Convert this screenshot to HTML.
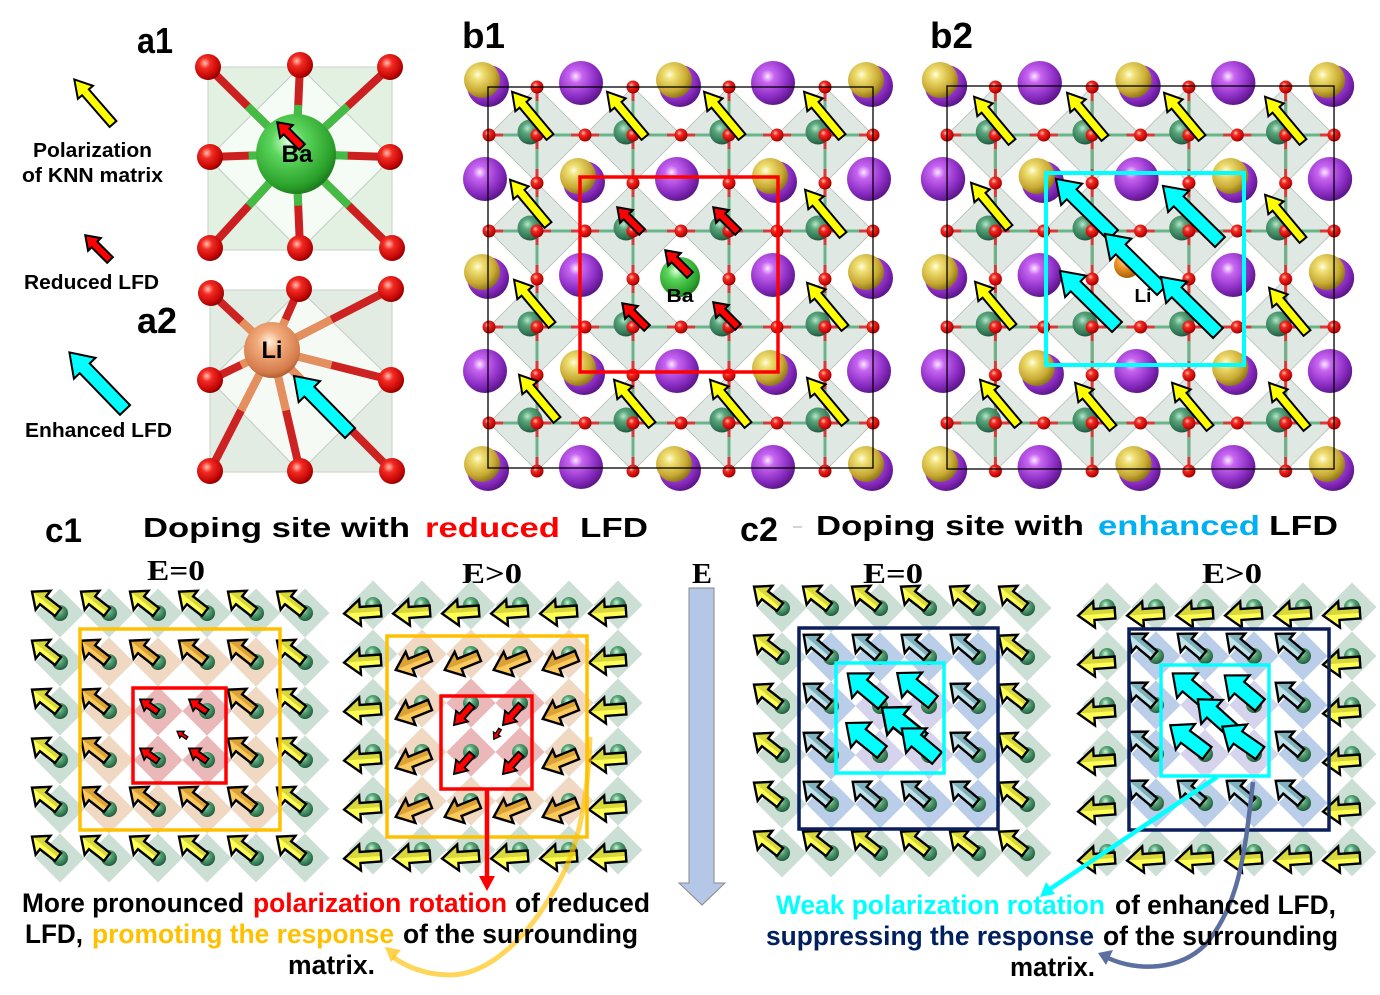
<!DOCTYPE html>
<html><head><meta charset="utf-8"><style>
html,body{margin:0;padding:0;background:#fff;width:1380px;height:995px;overflow:hidden}
svg{display:block}
text{font-family:"Liberation Sans",Arial,sans-serif;font-weight:bold}
.serif{font-family:"Liberation Serif","Times New Roman",serif;font-weight:bold}
</style></head><body>
<svg xmlns="http://www.w3.org/2000/svg" width="1380" height="995" viewBox="0 0 1380 995">
<defs>
<radialGradient id="gPur" cx=".38" cy=".35" r=".68"><stop offset="0" stop-color="#fbe8ff"/><stop offset=".22" stop-color="#c865f2"/><stop offset=".7" stop-color="#8a2cc2"/><stop offset="1" stop-color="#5a1486"/></radialGradient>
<radialGradient id="gGold" cx=".38" cy=".35" r=".68"><stop offset="0" stop-color="#fffde6"/><stop offset=".22" stop-color="#efdf72"/><stop offset=".7" stop-color="#c8a932"/><stop offset="1" stop-color="#8a7218"/></radialGradient>
<radialGradient id="gNb" cx=".4" cy=".35" r=".7"><stop offset="0" stop-color="#b8e6cc"/><stop offset=".3" stop-color="#5aa67c"/><stop offset=".8" stop-color="#2e7050"/><stop offset="1" stop-color="#1d4a34"/></radialGradient>
<radialGradient id="gO" cx=".38" cy=".35" r=".7"><stop offset="0" stop-color="#ffc0b0"/><stop offset=".3" stop-color="#f22a22"/><stop offset=".8" stop-color="#c00404"/><stop offset="1" stop-color="#7e0000"/></radialGradient>
<radialGradient id="gBa" cx=".4" cy=".35" r=".7"><stop offset="0" stop-color="#dcffdc"/><stop offset=".3" stop-color="#5cd65c"/><stop offset=".8" stop-color="#2aa02a"/><stop offset="1" stop-color="#187018"/></radialGradient>
<radialGradient id="gLi" cx=".45" cy=".35" r=".7"><stop offset="0" stop-color="#fff0e0"/><stop offset=".3" stop-color="#f2ac7c"/><stop offset=".8" stop-color="#d47a4a"/><stop offset="1" stop-color="#9a5028"/></radialGradient>
<radialGradient id="gLi2" cx=".4" cy=".35" r=".7"><stop offset="0" stop-color="#ffd890"/><stop offset=".4" stop-color="#f09428"/><stop offset="1" stop-color="#a05800"/></radialGradient>
<radialGradient id="gS" cx=".4" cy=".35" r=".7"><stop offset="0" stop-color="#d0f4dc"/><stop offset=".35" stop-color="#5aa878"/><stop offset=".85" stop-color="#2a6a48"/><stop offset="1" stop-color="#1a4430"/></radialGradient>

<pattern id="pOct" patternUnits="userSpaceOnUse" x="4" y="4" width="96" height="96"><polygon points="48,0 96,48 48,96 0,48" fill="#dfe8e2" stroke="#b4bcb7" stroke-width="0.8"/></pattern>
<pattern id="pO" patternUnits="userSpaceOnUse" x="-20" y="-20" width="96" height="96"><circle cx="24" cy="72" r="6.5" fill="url(#gO)"/><circle cx="72" cy="24" r="6.5" fill="url(#gO)"/><circle cx="72" cy="72" r="6.5" fill="url(#gO)"/></pattern>

<pattern id="pG" patternUnits="userSpaceOnUse" x="-24.5" y="-24.5" width="49" height="49"><polygon points="24.5,0 49,24.5 24.5,49 0,24.5" fill="#cbdfd4"/></pattern>
<pattern id="pT" patternUnits="userSpaceOnUse" x="-24.5" y="-24.5" width="49" height="49"><polygon points="24.5,0 49,24.5 24.5,49 0,24.5" fill="#f0d8c2"/></pattern>
<pattern id="pP" patternUnits="userSpaceOnUse" x="-24.5" y="-24.5" width="49" height="49"><polygon points="24.5,0 49,24.5 24.5,49 0,24.5" fill="#ebb8ba"/></pattern>
<pattern id="pB" patternUnits="userSpaceOnUse" x="-24.5" y="-24.5" width="49" height="49"><polygon points="24.5,0 49,24.5 24.5,49 0,24.5" fill="#bacee9"/></pattern>
<pattern id="pL" patternUnits="userSpaceOnUse" x="-24.5" y="-24.5" width="49" height="49"><polygon points="24.5,0 49,24.5 24.5,49 0,24.5" fill="#d6d4ec"/></pattern>

<path id="F33" d="M0,-5 L19,-5 L19,-12 L33,0 L19,12 L19,5 L0,5 Z"/>
<path id="H33" d="M0,0 L33,0 L19,12 L19,5 L0,5 Z"/>
<path id="F37" d="M0,-5.5 L21,-5.5 L21,-13 L37,0 L21,13 L21,5.5 L0,5.5 Z"/>
<path id="H37" d="M0,0 L37,0 L21,13 L21,5.5 L0,5.5 Z"/>
<path id="Y59" d="M0,-4.5 L42,-4.5 L42,-10 L59,0 L42,10 L42,4.5 L0,4.5 Z"/>
<path id="R35" d="M0,-4 L22,-4 L22,-9 L35,0 L22,9 L22,4 L0,4 Z"/>
<path id="C80" d="M0,-7 L58,-7 L58,-15 L80,0 L58,15 L58,7 L0,7 Z"/>
<path id="C46" d="M0,-7.5 L27,-7.5 L27,-16 L46,0 L27,16 L27,7.5 L0,7.5 Z"/>
<path id="R22" d="M0,-3 L12,-3 L12,-7 L22,0 L12,7 L12,3 L0,3 Z"/>
<path id="R27" d="M0,-3.5 L15,-3.5 L15,-8 L27,0 L15,8 L15,3.5 L0,3.5 Z"/>
<path id="T12" d="M0,-1.5 L6,-1.5 L6,-4 L12,0 L6,4 L6,1.5 L0,1.5 Z"/>

<circle id="sph" r="8" fill="url(#gS)"/>
<circle id="pA" r="22" fill="url(#gPur)"/>
<g id="gA"><circle cx="3" cy="3" r="21" fill="url(#gPur)"/><circle cx="-3" cy="-3" r="18" fill="url(#gGold)"/></g>
<circle id="nb" r="12.5" fill="url(#gNb)"/>
<circle id="ob" r="13" fill="url(#gO)"/>

<g id="cYU"><use href="#sph"/><g transform="translate(-2,-1) rotate(-142)"><use href="#F33" fill="#ffff55"/><use href="#H33" fill="#d8d83c"/><use href="#F33" fill="none" stroke="#000" stroke-width="2.4"/></g></g>
<g id="cOU"><use href="#sph"/><g transform="translate(-2,-1) rotate(-142)"><use href="#F33" fill="#fbc95c"/><use href="#H33" fill="#dca236"/><use href="#F33" fill="none" stroke="#000" stroke-width="2.4"/></g></g>
<g id="cBU"><use href="#sph"/><g transform="translate(-2,-1) rotate(-140)"><use href="#F33" fill="#c2e2ea"/><use href="#H33" fill="#80b2be"/><use href="#F33" fill="none" stroke="#000" stroke-width="2.4"/></g></g>
<g id="cRU"><use href="#sph"/><g transform="translate(0,1) rotate(-145)"><use href="#R22" fill="#ff0000" stroke="#000" stroke-width="1.8"/></g></g>
<g id="cYL"><use href="#sph"/><g transform="translate(8,6) rotate(176)"><use href="#F37" fill="#ffff55"/><use href="#H37" fill="#d8d83c"/><use href="#F37" fill="none" stroke="#000" stroke-width="2.4"/></g></g>
<g id="cOD"><use href="#sph"/><g transform="translate(8,2) rotate(158)"><use href="#F37" fill="#fbc95c"/><use href="#H37" fill="#dca236"/><use href="#F37" fill="none" stroke="#000" stroke-width="2.4"/></g></g>
<g id="cRD"><use href="#sph"/><g transform="translate(1,2) rotate(132)"><use href="#R27" fill="#ff0000" stroke="#000" stroke-width="1.8"/></g></g>

<g id="bLat">
<rect x="4" y="4" width="384" height="384" fill="url(#pOct)"/>
<path d="M4,52H388M4,148H388M4,244H388M4,340H388M52,4V388M148,4V388M244,4V388M340,4V388" stroke="#d83a3a" stroke-width="3" fill="none"/>
<path d="M4,52H388M4,148H388M4,244H388M4,340H388M52,4V388M148,4V388M244,4V388M340,4V388" stroke="#6ab48a" stroke-width="3" fill="none" stroke-dasharray="20 28" stroke-dashoffset="34"/>
<use href="#gA" x="0" y="0"/><use href="#gA" x="192" y="0"/><use href="#gA" x="384" y="0"/>
<use href="#gA" x="96" y="96"/><use href="#gA" x="288" y="96"/>
<use href="#gA" x="0" y="192"/><use href="#gA" x="384" y="192"/>
<use href="#gA" x="96" y="288"/><use href="#gA" x="288" y="288"/>
<use href="#gA" x="0" y="384"/><use href="#gA" x="192" y="384"/><use href="#gA" x="384" y="384"/>
<use href="#pA" x="96" y="0"/><use href="#pA" x="288" y="0"/>
<use href="#pA" x="0" y="96"/><use href="#pA" x="192" y="96"/><use href="#pA" x="384" y="96"/>
<use href="#pA" x="96" y="192"/><use href="#pA" x="288" y="192"/>
<use href="#pA" x="0" y="288"/><use href="#pA" x="192" y="288"/><use href="#pA" x="384" y="288"/>
<use href="#pA" x="96" y="384"/><use href="#pA" x="288" y="384"/>
<use href="#nb" x="45" y="49"/><use href="#nb" x="141" y="49"/><use href="#nb" x="237" y="49"/><use href="#nb" x="333" y="49"/>
<use href="#nb" x="45" y="145"/><use href="#nb" x="141" y="145"/><use href="#nb" x="237" y="145"/><use href="#nb" x="333" y="145"/>
<use href="#nb" x="45" y="241"/><use href="#nb" x="141" y="241"/><use href="#nb" x="237" y="241"/><use href="#nb" x="333" y="241"/>
<use href="#nb" x="45" y="337"/><use href="#nb" x="141" y="337"/><use href="#nb" x="237" y="337"/><use href="#nb" x="333" y="337"/>
</g>
</defs>

<!-- ===== a1 / a2 ===== -->
<text x="137" y="53" font-size="36" textLength="36" lengthAdjust="spacingAndGlyphs">a1</text>
<text x="137" y="333" font-size="36" textLength="40" lengthAdjust="spacingAndGlyphs">a2</text>

<!-- legend -->
<use href="#Y59" transform="translate(113,124) rotate(-131)" fill="#ffff00" stroke="#000" stroke-width="2"/>
<text x="92.5" y="157" font-size="20" text-anchor="middle" textLength="119" lengthAdjust="spacingAndGlyphs">Polarization</text>
<text x="92.5" y="182" font-size="20" text-anchor="middle" textLength="141" lengthAdjust="spacingAndGlyphs">of KNN matrix</text>
<use href="#R35" transform="translate(110,260) rotate(-135)" fill="#ff0000" stroke="#000" stroke-width="2"/>
<text x="24" y="289" font-size="20" textLength="135" lengthAdjust="spacingAndGlyphs">Reduced LFD</text>
<use href="#C80" transform="translate(125,410) rotate(-134)" fill="#00ffff" stroke="#000" stroke-width="2"/>
<text x="25" y="437" font-size="20" textLength="147" lengthAdjust="spacingAndGlyphs">Enhanced LFD</text>

<!-- a1 structure -->
<rect x="208" y="67" width="184" height="183" fill="#e3f1e3" stroke="#c8d2c8" stroke-width="1"/>
<polygon points="300,67 392,158 300,250 208,158" fill="#f5fbf5" stroke="#c4ccc4" stroke-width="1"/>
<g stroke-width="8" stroke-linecap="butt" fill="none">
<path stroke="#cc2020" d="M296,154L208,67M296,154L300,65M296,154L390,67M296,154L210,157M296,154L390,157M296,154L210,248M296,154L300,248M296,154L392,248"/>
<path stroke="#44bb44" d="M296,154L247.6,106.2M296,154L298.2,105M296,154L347.7,106.2M296,154L248.7,155.7M296,154L347.7,155.7M296,154L248.7,205.7M296,154L298.2,205.7M296,154L348.8,205.7"/>
</g>
<use href="#ob" x="208" y="67"/><use href="#ob" x="300" y="65"/><use href="#ob" x="390" y="67"/>
<use href="#ob" x="210" y="157"/><use href="#ob" x="390" y="157"/>
<use href="#ob" x="210" y="248"/><use href="#ob" x="300" y="248"/><use href="#ob" x="392" y="248"/>
<circle cx="296" cy="154" r="40" fill="url(#gBa)"/>
<use href="#R35" transform="translate(302,147) rotate(-135)" fill="#ff0000" stroke="#000" stroke-width="2"/>
<text x="297" y="162" font-size="24" text-anchor="middle" textLength="31" lengthAdjust="spacingAndGlyphs">Ba</text>

<!-- a2 structure -->
<rect x="210" y="290" width="182" height="182" fill="#e2ece2" stroke="#c8d2c8" stroke-width="1"/>
<polygon points="300,290 392,380 300,472 210,380" fill="#f5faf5" stroke="#c4ccc4" stroke-width="1"/>
<g stroke-width="8" fill="none">
<path stroke="#cc2222" d="M272,350L211,293M272,350L299,289M272,350L391,289M272,350L210,380M272,350L391,380M272,350L210,471M272,350L300,471M272,350L392,471"/>
<path stroke="#e4905e" d="M272,350L241.5,321.5M272,350L285.5,319.5M272,350L331.5,319.5M272,350L241,365M272,350L331.5,365M272,350L241,410.5M272,350L286,410.5M272,350L332,410.5"/>
</g>
<use href="#ob" x="211" y="293"/><use href="#ob" x="299" y="289"/><use href="#ob" x="391" y="289"/>
<use href="#ob" x="210" y="380"/><use href="#ob" x="391" y="380"/>
<use href="#ob" x="210" y="471"/><use href="#ob" x="300" y="471"/><use href="#ob" x="392" y="471"/>
<circle cx="272" cy="350" r="28" fill="url(#gLi)"/>
<text x="272" y="358" font-size="24" text-anchor="middle" textLength="21" lengthAdjust="spacingAndGlyphs">Li</text>
<use href="#C80" transform="translate(350,433) rotate(-134.5)" fill="#00ffff" stroke="#000" stroke-width="2"/>

<!-- ===== b1 ===== -->
<text x="462" y="48" font-size="36" textLength="43" lengthAdjust="spacingAndGlyphs">b1</text>
<g transform="translate(485,83)">
<use href="#bLat"/>
<circle cx="195" cy="194" r="20" fill="url(#gBa)"/>
<rect x="-10" y="-10" width="405" height="405" fill="url(#pO)"/>
<rect x="3" y="4" width="385" height="381" fill="none" stroke="#000" stroke-width="1.3"/>
</g>
<g fill="#ffff00" stroke="#000" stroke-width="2">
<use href="#Y59" transform="translate(550,137) rotate(-130)"/>
<use href="#Y59" transform="translate(645,137) rotate(-130)"/>
<use href="#Y59" transform="translate(742,137) rotate(-130)"/>
<use href="#Y59" transform="translate(842,137) rotate(-130)"/>
<use href="#Y59" transform="translate(548,225) rotate(-130)"/>
<use href="#Y59" transform="translate(843,235) rotate(-130)"/>
<use href="#Y59" transform="translate(552,325) rotate(-130)"/>
<use href="#Y59" transform="translate(845,328) rotate(-130)"/>
<use href="#Y59" transform="translate(557,420) rotate(-130)"/>
<use href="#Y59" transform="translate(652,425) rotate(-130)"/>
<use href="#Y59" transform="translate(748,425) rotate(-130)"/>
<use href="#Y59" transform="translate(845,423) rotate(-130)"/>
</g>
<g fill="#ff0000" stroke="#000" stroke-width="2">
<use href="#R35" transform="translate(642,232) rotate(-135)"/>
<use href="#R35" transform="translate(738,232) rotate(-135)"/>
<use href="#R35" transform="translate(690,275) rotate(-135)"/>
<use href="#R35" transform="translate(647,328) rotate(-135)"/>
<use href="#R35" transform="translate(738,327) rotate(-135)"/>
</g>
<text x="680" y="302" font-size="18" text-anchor="middle" textLength="27" lengthAdjust="spacingAndGlyphs">Ba</text>
<rect x="580" y="177" width="198" height="195" fill="none" stroke="#ff0000" stroke-width="3.5"/>

<!-- ===== b2 ===== -->
<text x="930" y="48" font-size="36" textLength="43" lengthAdjust="spacingAndGlyphs">b2</text>
<g transform="translate(943,83) scale(1.0078,1)">
<use href="#bLat"/>
<rect x="-10" y="-10" width="405" height="405" fill="url(#pO)"/>
<rect x="4" y="3" width="384" height="383" fill="none" stroke="#000" stroke-width="1.3"/>
</g>
<circle cx="1127" cy="265" r="13" fill="url(#gLi2)"/>
<text x="1143" y="302" font-size="18" text-anchor="middle" textLength="17" lengthAdjust="spacingAndGlyphs">Li</text>
<g fill="#ffff00" stroke="#000" stroke-width="2">
<use href="#Y59" transform="translate(1012,142) rotate(-130)"/>
<use href="#Y59" transform="translate(1105,138) rotate(-130)"/>
<use href="#Y59" transform="translate(1202,138) rotate(-130)"/>
<use href="#Y59" transform="translate(1303,142) rotate(-130)"/>
<use href="#Y59" transform="translate(1009,228) rotate(-130)"/>
<use href="#Y59" transform="translate(1303,240) rotate(-130)"/>
<use href="#Y59" transform="translate(1013,327) rotate(-130)"/>
<use href="#Y59" transform="translate(1307,333) rotate(-130)"/>
<use href="#Y59" transform="translate(1018,425) rotate(-130)"/>
<use href="#Y59" transform="translate(1113,428) rotate(-130)"/>
<use href="#Y59" transform="translate(1210,428) rotate(-130)"/>
<use href="#Y59" transform="translate(1307,428) rotate(-130)"/>
</g>
<g fill="#00ffff" stroke="#000" stroke-width="2">
<use href="#C80" transform="translate(1113,235) rotate(-135.5)"/>
<use href="#C80" transform="translate(1220,242) rotate(-135.5)"/>
<use href="#C80" transform="translate(1162,290) rotate(-135.5)"/>
<use href="#C80" transform="translate(1117,327) rotate(-135.5)"/>
<use href="#C80" transform="translate(1218,333) rotate(-135.5)"/>
</g>
<rect x="1046" y="173" width="198" height="192" fill="none" stroke="#00ffff" stroke-width="4"/>

<!-- ===== titles c ===== -->
<text x="45" y="542" font-size="34" textLength="37" lengthAdjust="spacingAndGlyphs">c1</text>
<text x="143" y="537" font-size="28" textLength="267" lengthAdjust="spacingAndGlyphs">Doping site with</text>
<text x="425" y="537" font-size="28" fill="#ff0000" textLength="135" lengthAdjust="spacingAndGlyphs">reduced</text>
<text x="580" y="537" font-size="28" textLength="68" lengthAdjust="spacingAndGlyphs">LFD</text>
<text x="740" y="541" font-size="34" textLength="38" lengthAdjust="spacingAndGlyphs">c2</text>
<line x1="793" y1="527" x2="802" y2="527" stroke="#aaa" stroke-width="1"/>
<text x="816" y="535" font-size="28" textLength="268" lengthAdjust="spacingAndGlyphs">Doping site with</text>
<text x="1098" y="535" font-size="28" fill="#00b0f0" textLength="162" lengthAdjust="spacingAndGlyphs">enhanced</text>
<text x="1269" y="535" font-size="28" textLength="69" lengthAdjust="spacingAndGlyphs">LFD</text>

<text class="serif" x="147" y="580" font-size="28" textLength="58" lengthAdjust="spacingAndGlyphs">E=0</text>
<text class="serif" x="462" y="583" font-size="28" textLength="60" lengthAdjust="spacingAndGlyphs">E&gt;0</text>
<text class="serif" x="692" y="583" font-size="28" textLength="20" lengthAdjust="spacingAndGlyphs">E</text>
<text class="serif" x="863" y="583" font-size="28" textLength="60" lengthAdjust="spacingAndGlyphs">E=0</text>
<text class="serif" x="1202" y="583" font-size="28" textLength="60" lengthAdjust="spacingAndGlyphs">E&gt;0</text>

<!-- E arrow -->
<polygon points="689,588 714,588 714,883 725,883 702,905 679,883 689,883" fill="#b4c7e7" stroke="#8a8a8a" stroke-width="1"/>

<!-- ===== c1 E=0 ===== -->
<g transform="translate(60,613)">
<rect x="-24.5" y="-24.5" width="294" height="294" fill="url(#pG)"/>
<rect x="24.5" y="24.5" width="196" height="196" fill="url(#pT)"/>
<rect x="73.5" y="73.5" width="98" height="98" fill="url(#pP)"/>
<use href="#cYU" x="0" y="0"/><use href="#cYU" x="49" y="0"/><use href="#cYU" x="98" y="0"/><use href="#cYU" x="147" y="0"/><use href="#cYU" x="196" y="0"/><use href="#cYU" x="245" y="0"/>
<use href="#cYU" x="0" y="49"/><use href="#cOU" x="49" y="49"/><use href="#cOU" x="98" y="49"/><use href="#cOU" x="147" y="49"/><use href="#cOU" x="196" y="49"/><use href="#cYU" x="245" y="49"/>
<use href="#cYU" x="0" y="98"/><use href="#cOU" x="49" y="98"/><use href="#cRU" x="98" y="98"/><use href="#cRU" x="147" y="98"/><use href="#cOU" x="196" y="98"/><use href="#cYU" x="245" y="98"/>
<use href="#cYU" x="0" y="147"/><use href="#cOU" x="49" y="147"/><use href="#cRU" x="98" y="147"/><use href="#cRU" x="147" y="147"/><use href="#cOU" x="196" y="147"/><use href="#cYU" x="245" y="147"/>
<use href="#cYU" x="0" y="196"/><use href="#cOU" x="49" y="196"/><use href="#cOU" x="98" y="196"/><use href="#cOU" x="147" y="196"/><use href="#cOU" x="196" y="196"/><use href="#cYU" x="245" y="196"/>
<use href="#cYU" x="0" y="245"/><use href="#cYU" x="49" y="245"/><use href="#cYU" x="98" y="245"/><use href="#cYU" x="147" y="245"/><use href="#cYU" x="196" y="245"/><use href="#cYU" x="245" y="245"/>
<use href="#T12" transform="translate(127,125) rotate(-146)" fill="#ff0000" stroke="#000" stroke-width="1.3"/>
</g>
<rect x="80" y="629" width="200" height="201" fill="none" stroke="#ffc000" stroke-width="3.5"/>
<rect x="133" y="688" width="93" height="95" fill="none" stroke="#ff0000" stroke-width="3.5"/>

<!-- ===== c1 E>0 ===== -->
<g transform="translate(373,605)">
<rect x="-24.5" y="-24.5" width="294" height="294" fill="url(#pG)"/>
<rect x="24.5" y="24.5" width="196" height="196" fill="url(#pT)"/>
<rect x="73.5" y="73.5" width="98" height="98" fill="url(#pP)"/>
<use href="#cYL" x="0" y="0"/><use href="#cYL" x="49" y="0"/><use href="#cYL" x="98" y="0"/><use href="#cYL" x="147" y="0"/><use href="#cYL" x="196" y="0"/><use href="#cYL" x="245" y="0"/>
<use href="#cYL" x="0" y="49"/><use href="#cOD" x="49" y="49"/><use href="#cOD" x="98" y="49"/><use href="#cOD" x="147" y="49"/><use href="#cOD" x="196" y="49"/><use href="#cYL" x="245" y="49"/>
<use href="#cYL" x="0" y="98"/><use href="#cOD" x="49" y="98"/><use href="#cRD" x="98" y="98"/><use href="#cRD" x="147" y="98"/><use href="#cOD" x="196" y="98"/><use href="#cYL" x="245" y="98"/>
<use href="#cYL" x="0" y="147"/><use href="#cOD" x="49" y="147"/><use href="#cRD" x="98" y="147"/><use href="#cRD" x="147" y="147"/><use href="#cOD" x="196" y="147"/><use href="#cYL" x="245" y="147"/>
<use href="#cYL" x="0" y="196"/><use href="#cOD" x="49" y="196"/><use href="#cOD" x="98" y="196"/><use href="#cOD" x="147" y="196"/><use href="#cOD" x="196" y="196"/><use href="#cYL" x="245" y="196"/>
<use href="#cYL" x="0" y="245"/><use href="#cYL" x="49" y="245"/><use href="#cYL" x="98" y="245"/><use href="#cYL" x="147" y="245"/><use href="#cYL" x="196" y="245"/><use href="#cYL" x="245" y="245"/>
<use href="#T12" transform="translate(127,124) rotate(121)" fill="#ff0000" stroke="#000" stroke-width="1.3"/>
</g>
<rect x="387" y="636" width="200" height="201" fill="none" stroke="#ffc000" stroke-width="3.5"/>
<rect x="441" y="696" width="91" height="93" fill="none" stroke="#ff0000" stroke-width="3.5"/>

<!-- ===== c2 E=0 ===== -->
<g transform="translate(782,608)">
<rect x="-24.5" y="-24.5" width="294" height="294" fill="url(#pG)"/>
<rect x="24.5" y="24.5" width="196" height="196" fill="url(#pB)"/>
<rect x="73.5" y="73.5" width="98" height="98" fill="url(#pL)"/>
<use href="#cYU" x="0" y="0"/><use href="#cYU" x="49" y="0"/><use href="#cYU" x="98" y="0"/><use href="#cYU" x="147" y="0"/><use href="#cYU" x="196" y="0"/><use href="#cYU" x="245" y="0"/>
<use href="#cYU" x="0" y="49"/><use href="#cBU" x="49" y="49"/><use href="#cBU" x="98" y="49"/><use href="#cBU" x="147" y="49"/><use href="#cBU" x="196" y="49"/><use href="#cYU" x="245" y="49"/>
<use href="#cYU" x="0" y="98"/><use href="#cBU" x="49" y="98"/><use href="#sph" x="98" y="98"/><use href="#sph" x="147" y="98"/><use href="#cBU" x="196" y="98"/><use href="#cYU" x="245" y="98"/>
<use href="#cYU" x="0" y="147"/><use href="#cBU" x="49" y="147"/><use href="#sph" x="98" y="147"/><use href="#sph" x="147" y="147"/><use href="#cBU" x="196" y="147"/><use href="#cYU" x="245" y="147"/>
<use href="#cYU" x="0" y="196"/><use href="#cBU" x="49" y="196"/><use href="#cBU" x="98" y="196"/><use href="#cBU" x="147" y="196"/><use href="#cBU" x="196" y="196"/><use href="#cYU" x="245" y="196"/>
<use href="#cYU" x="0" y="245"/><use href="#cYU" x="49" y="245"/><use href="#cYU" x="98" y="245"/><use href="#cYU" x="147" y="245"/><use href="#cYU" x="196" y="245"/><use href="#cYU" x="245" y="245"/>
</g>
<g fill="#00ffff" stroke="#000" stroke-width="2.2">
<use href="#C46" transform="translate(883,703) rotate(-140)"/>
<use href="#C46" transform="translate(933,702) rotate(-141)"/>
<use href="#C46" transform="translate(922,740) rotate(-141) scale(1.12)"/>
<use href="#C46" transform="translate(882,752) rotate(-141)"/>
<use href="#C46" transform="translate(937,758) rotate(-140)"/>
</g>
<rect x="799" y="628" width="199" height="201" fill="none" stroke="#0a1f5c" stroke-width="3.5"/>
<rect x="836" y="663" width="108" height="110" fill="none" stroke="#00ffff" stroke-width="3.5"/>

<!-- ===== c2 E>0 ===== -->
<g transform="translate(1107,607)">
<rect x="-24.5" y="-24.5" width="294" height="294" fill="url(#pG)"/>
<rect x="24.5" y="24.5" width="196" height="196" fill="url(#pB)"/>
<rect x="73.5" y="73.5" width="98" height="98" fill="url(#pL)"/>
<use href="#cYL" x="0" y="0"/><use href="#cYL" x="49" y="0"/><use href="#cYL" x="98" y="0"/><use href="#cYL" x="147" y="0"/><use href="#cYL" x="196" y="0"/><use href="#cYL" x="245" y="0"/>
<use href="#cYL" x="0" y="49"/><use href="#cBU" x="49" y="49"/><use href="#cBU" x="98" y="49"/><use href="#cBU" x="147" y="49"/><use href="#cBU" x="196" y="49"/><use href="#cYL" x="245" y="49"/>
<use href="#cYL" x="0" y="98"/><use href="#cBU" x="49" y="98"/><use href="#sph" x="98" y="98"/><use href="#sph" x="147" y="98"/><use href="#cBU" x="196" y="98"/><use href="#cYL" x="245" y="98"/>
<use href="#cYL" x="0" y="147"/><use href="#cBU" x="49" y="147"/><use href="#sph" x="98" y="147"/><use href="#sph" x="147" y="147"/><use href="#cBU" x="196" y="147"/><use href="#cYL" x="245" y="147"/>
<use href="#cYL" x="0" y="196"/><use href="#cBU" x="49" y="196"/><use href="#cBU" x="98" y="196"/><use href="#cBU" x="147" y="196"/><use href="#cBU" x="196" y="196"/><use href="#cYL" x="245" y="196"/>
<use href="#cYL" x="0" y="245"/><use href="#cYL" x="49" y="245"/><use href="#cYL" x="98" y="245"/><use href="#cYL" x="147" y="245"/><use href="#cYL" x="196" y="245"/><use href="#cYL" x="245" y="245"/>
</g>
<g fill="#00ffff" stroke="#000" stroke-width="2.2">
<use href="#C46" transform="translate(1208,703) rotate(-140)"/>
<use href="#C46" transform="translate(1260,705) rotate(-140)"/>
<use href="#C46" transform="translate(1232,730) rotate(-138)"/>
<use href="#C46" transform="translate(1207,753) rotate(-143)"/>
<use href="#C46" transform="translate(1260,753) rotate(-145)"/>
</g>
<rect x="1129" y="629" width="200" height="201" fill="none" stroke="#0a1f5c" stroke-width="3.5"/>
<rect x="1161" y="665" width="108" height="111" fill="none" stroke="#00ffff" stroke-width="3.5"/>

<!-- connectors -->
<line x1="487" y1="789" x2="487" y2="878" stroke="#ff0000" stroke-width="4.5"/>
<polygon points="479,876 495,876 487,891" fill="#ff0000"/>
<path d="M590,737 C588,800 578,850 557,885 C530,935 490,975 450,975 C425,975 405,966 393,957" stroke="#ffc000" stroke-opacity="0.65" stroke-width="5" fill="none"/>
<polygon points="385,947 401,950 391,962" fill="#ffc000" fill-opacity="0.7"/>
<line x1="1217" y1="777" x2="1050" y2="889" stroke="#00ffff" stroke-width="4.5"/>
<polygon points="1040,897 1046,882 1055,894" fill="#00ffff"/>
<path d="M1253,782 C1245,850 1240,905 1205,945 C1180,970 1138,972 1108,958" stroke="#5b6fa0" stroke-width="4.5" fill="none"/>
<polygon points="1098,953 1113,950 1106,965" fill="#5b6fa0"/>

<!-- bottom text -->
<text x="22" y="912" font-size="27" textLength="222" lengthAdjust="spacingAndGlyphs">More pronounced</text>
<text x="253" y="912" font-size="27" fill="#ff0000" textLength="254" lengthAdjust="spacingAndGlyphs">polarization rotation</text>
<text x="515" y="912" font-size="27" textLength="135" lengthAdjust="spacingAndGlyphs">of reduced</text>
<text x="25" y="943" font-size="27" textLength="58" lengthAdjust="spacingAndGlyphs">LFD,</text>
<text x="92" y="943" font-size="27" fill="#ffc000" textLength="302" lengthAdjust="spacingAndGlyphs">promoting the response</text>
<text x="403" y="943" font-size="27" textLength="235" lengthAdjust="spacingAndGlyphs">of the surrounding</text>
<text x="288" y="974" font-size="27" textLength="87" lengthAdjust="spacingAndGlyphs">matrix.</text>

<text x="776" y="914" font-size="27" fill="#00ffff" textLength="329" lengthAdjust="spacingAndGlyphs">Weak polarization rotation</text>
<text x="1115" y="914" font-size="27" textLength="221" lengthAdjust="spacingAndGlyphs">of enhanced LFD,</text>
<text x="766" y="945" font-size="27" fill="#002060" textLength="328" lengthAdjust="spacingAndGlyphs">suppressing the response</text>
<text x="1103" y="945" font-size="27" textLength="235" lengthAdjust="spacingAndGlyphs">of the surrounding</text>
<text x="1010" y="976" font-size="27" textLength="85" lengthAdjust="spacingAndGlyphs">matrix.</text>
</svg>
</body></html>
